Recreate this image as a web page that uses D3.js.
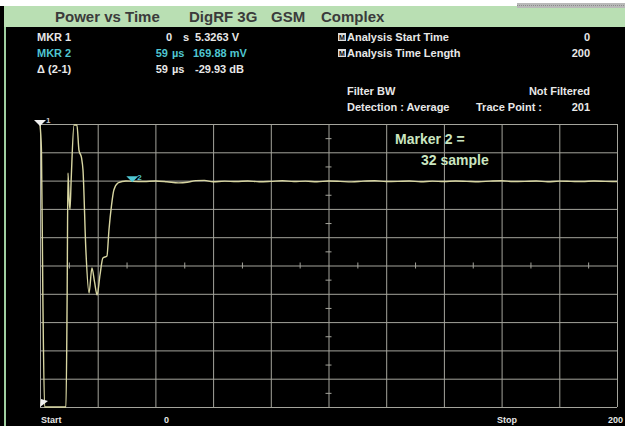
<!DOCTYPE html>
<html>
<head>
<meta charset="utf-8">
<script src="https://cdn.jsdelivr.net/npm/d3@7"></script>
<style>
  body { margin: 0; background: #000; }
  svg { display: block; }
  text { font-family: "Liberation Sans", Arial, sans-serif; font-weight: bold; }
</style>
</head>
<body>
<div id="chart"></div>
<script>
// trace: sample index vs level in dBV
const traceSample = [0, 0.5, 1.0, 1.6, 9.0, 9.4, 9.7, 10.1, 10.4, 10.8, 11.8, 12.8, 13.5, 14.4, 14.9,
  15.9, 17.0, 18.0, 18.9, 19.8, 20.8, 21.8, 23.2, 23.9, 24.8, 25.6, 27.0, 28.4, 29.8, 32,
  36, 40, 44, 48, 51, 54, 57, 60, 64, 68, 72, 76, 80, 84, 88, 92, 96, 100, 104, 108, 112,
  116, 120, 124, 128, 132, 136, 140, 144, 148, 152, 156, 160, 164, 168, 172, 176, 180,
  184, 188, 192, 196, 200];
const traceDbv = [14.5, 1.2, -78, -135, -135, -78, -11, -25.3, -30.3, -14.7, 14.5, 14.5, 1.2, -3.0, -9.4,
  -51.8, -74.6, -61.3, -68.7, -75.6, -65, -56, -55, -41.2, -28, -20, -16.3, -15.5, -15.2, -15.4,
  -15.5, -15.2, -15.6, -16.2, -15.9, -15.0, -14.9, -15.6, -15.3, -15.5, -15.2, -15.6, -15.4, -15.1, -15.5,
  -15.3, -15.6, -15.2, -15.4, -15.7, -15.3, -15.1, -15.5, -15.4, -15.2, -15.6, -15.3, -15.5, -15.2,
  -15.4, -15.6, -15.3, -15.1, -15.5, -15.4, -15.2, -15.6, -15.3, -15.4, -15.5, -15.2, -15.4, -15.5];

// marker readout
const markerRows = [
  { label: "MKR 1", time: "0", unit: "s", level: "5.3263 V", color: "#e8e8e8" },
  { label: "MKR 2", time: "59", unit: "µs", level: "169.88 mV", color: "#4fc6d2" },
  { label: "Δ (2-1)", time: "59", unit: "µs", level: "-29.93 dB", color: "#e8e8e8" }
];
const markerSamples = [0, 32];
const markerLevels = [14.53, -15.4];

const settingLabels = ["Analysis Start Time", "Analysis Time Length"];
const settingValues = ["0", "200"];

const xTicks = d3.range(0, 201, 20);
const yTicks = d3.range(-135, 16, 15);
const xLabels = ["Start", "0", "Stop", "200"];

const width = 625;
const height = 426;

const svg = d3.select("#chart")
  .append("svg")
    .attr("width", width)
    .attr("height", height);

svg.append("rect").attr("width", width).attr("height", height).attr("fill", "#000");

// header
svg.append("rect").attr("x", 0).attr("y", 0).attr("width", width).attr("height", 6).attr("fill", "#fff");
svg.append("rect").attr("x", 4).attr("y", 6).attr("width", width - 4).attr("height", 21).attr("fill", "#b9dfb3");
svg.append("rect").attr("x", 4).attr("y", 27).attr("width", 2).attr("height", height - 27).attr("fill", "#9fcfa0");
svg.append("rect").attr("x", 517).attr("y", 3).attr("width", 108).attr("height", 5).attr("fill", "#b8b8b8");
svg.append("line").attr("x1", 517).attr("x2", 625).attr("y1", 5.5).attr("y2", 5.5)
  .attr("stroke", "#8c8c8c").attr("stroke-dasharray", "1,1");

const title = svg.append("g").attr("font-size", 15).attr("fill", "#3b3b3b");
title.append("text").attr("x", 55).attr("y", 22).text("Power vs Time");
title.append("text").attr("x", 189).attr("y", 22).text("DigRF 3G");
title.append("text").attr("x", 271).attr("y", 22).text("GSM");
title.append("text").attr("x", 321).attr("y", 22).text("Complex");

// marker table
const timeEnd = [172, 168, 168];
const unitX = [183, 172, 172];
const levelX = [195, 193, 195];
const rows = svg.append("g").attr("font-size", 11);
markerRows.forEach((r, i) => {
  const yy = 41 + i * 16;
  rows.append("text").attr("x", 37).attr("y", yy).attr("fill", r.color).text(r.label);
  rows.append("text").attr("x", timeEnd[i]).attr("y", yy).attr("text-anchor", "end").attr("fill", r.color).text(r.time);
  rows.append("text").attr("x", unitX[i]).attr("y", yy).attr("fill", r.color).text(r.unit);
  rows.append("text").attr("x", levelX[i]).attr("y", yy).attr("fill", r.color).text(r.level);
});

settingLabels.forEach((s, i) => {
  const yy = 41 + i * 16;
  const g = rows.append("g");
  g.append("rect").attr("x", 338).attr("y", yy - 8).attr("width", 8).attr("height", 8)
    .attr("fill", "#dcdcdc");
  g.append("text").attr("x", 339).attr("y", yy - 1.5).attr("font-size", 7).attr("fill", "#000").text("M");
  g.append("text").attr("x", 347).attr("y", yy).attr("fill", "#e8e8e8").text(s);
  g.append("text").attr("x", 590).attr("y", yy).attr("text-anchor", "end").attr("fill", "#e8e8e8").text(settingValues[i]);
});
rows.append("text").attr("x", 347).attr("y", 95).attr("fill", "#e8e8e8").text("Filter BW");
rows.append("text").attr("x", 590).attr("y", 95).attr("text-anchor", "end").attr("fill", "#e8e8e8").text("Not Filtered");
rows.append("text").attr("x", 347).attr("y", 111).attr("fill", "#e8e8e8").text("Detection :  Average");
rows.append("text").attr("x", 476).attr("y", 111).attr("fill", "#e8e8e8").text("Trace Point :");
rows.append("text").attr("x", 590).attr("y", 111).attr("text-anchor", "end").attr("fill", "#e8e8e8").text("201");

// scales
const x = d3.scaleLinear().domain([0, 200]).range([40, 617]);
const y = d3.scaleLinear().domain([-135, 15]).range([407, 124]).clamp(true);

// grid
const gridColor = "#a4a49c";
const xGrid = svg.append("g")
  .attr("transform", `translate(0,${y(-135)})`)
  .call(d3.axisBottom(x).tickValues(xTicks).tickSize(-(y(-135) - y(15))).tickFormat(""));
const yGrid = svg.append("g")
  .attr("transform", `translate(${x(0)},0)`)
  .call(d3.axisLeft(y).tickValues(yTicks).tickSize(-(x(200) - x(0))).tickFormat(""));
[xGrid, yGrid].forEach(g => {
  g.select(".domain").remove();
  g.selectAll("line").attr("stroke", gridColor).attr("stroke-width", 1);
});

// minor ticks on the centre lines
const midX = d3.range(10, 200, 20);
const midY = d3.range(-127.5, 15, 15);
const cx = svg.append("g")
  .attr("transform", `translate(0,${y(-60)})`)
  .call(d3.axisBottom(x).tickValues(midX).tickSize(6).tickFormat(""));
cx.selectAll(".tick line").attr("transform", "translate(0,-3)");
const cy = svg.append("g")
  .attr("transform", `translate(${x(100)},0)`)
  .call(d3.axisLeft(y).tickValues(midY).tickSize(6).tickFormat(""));
cy.selectAll(".tick line").attr("transform", "translate(3,0)");
[cx, cy].forEach(g => {
  g.select(".domain").remove();
  g.selectAll("line").attr("stroke", gridColor);
});

// trace
const trace = traceSample.map((s, i) => ({ s: s, v: traceDbv[i] }));
svg.append("path")
  .datum(trace)
  .attr("fill", "none")
  .attr("stroke", "#d8d6a2")
  .attr("stroke-width", 1.4)
  .attr("d", d3.line().x(d => x(d.s)).y(d => y(d.v)).curve(d3.curveMonotoneX));

// markers
const m1x = x(markerSamples[0]), m1y = y(markerLevels[0]);
svg.append("path").attr("d", `M${m1x - 6},${m1y - 5}L${m1x + 6},${m1y - 5}L${m1x},${m1y + 1}Z`).attr("fill", "#f0f0f0");
svg.append("text").attr("x", m1x + 6).attr("y", m1y - 2).attr("font-size", 8).attr("font-weight", "normal").attr("fill", "#ccc").text("1");
const m2x = x(markerSamples[1]), m2y = y(markerLevels[1]);
svg.append("path").attr("d", `M${m2x - 6},${m2y - 5}L${m2x + 6},${m2y - 5}L${m2x},${m2y + 1}Z`).attr("fill", "#4fc6d2");
svg.append("text").attr("x", m2x + 5).attr("y", m2y - 1).attr("font-size", 8).attr("fill", "#4fc6d2").text("2");
svg.append("path").attr("d", `M${x(0)},${y(-135)}L${x(0) + 1},${y(-135) - 8}L${x(0) + 8},${y(-135) - 6}Z`).attr("fill", "#f0f0f0");

// annotation
svg.append("text").attr("x", 395).attr("y", 144).attr("font-size", 14).attr("fill", "#cbe6c0").text("Marker 2 =");
svg.append("text").attr("x", 421).attr("y", 165).attr("font-size", 14).attr("fill", "#cbe6c0").text("32 sample");

// bottom labels
const bottom = svg.append("g").attr("font-size", 9).attr("fill", "#e6e6e6")
  .style("font-family", "'DejaVu Sans', sans-serif");
const labelX = [41, 164, 497, 608];
xLabels.forEach((t, i) => bottom.append("text").attr("x", labelX[i]).attr("y", 423).text(t));
</script>
</body>
</html>
